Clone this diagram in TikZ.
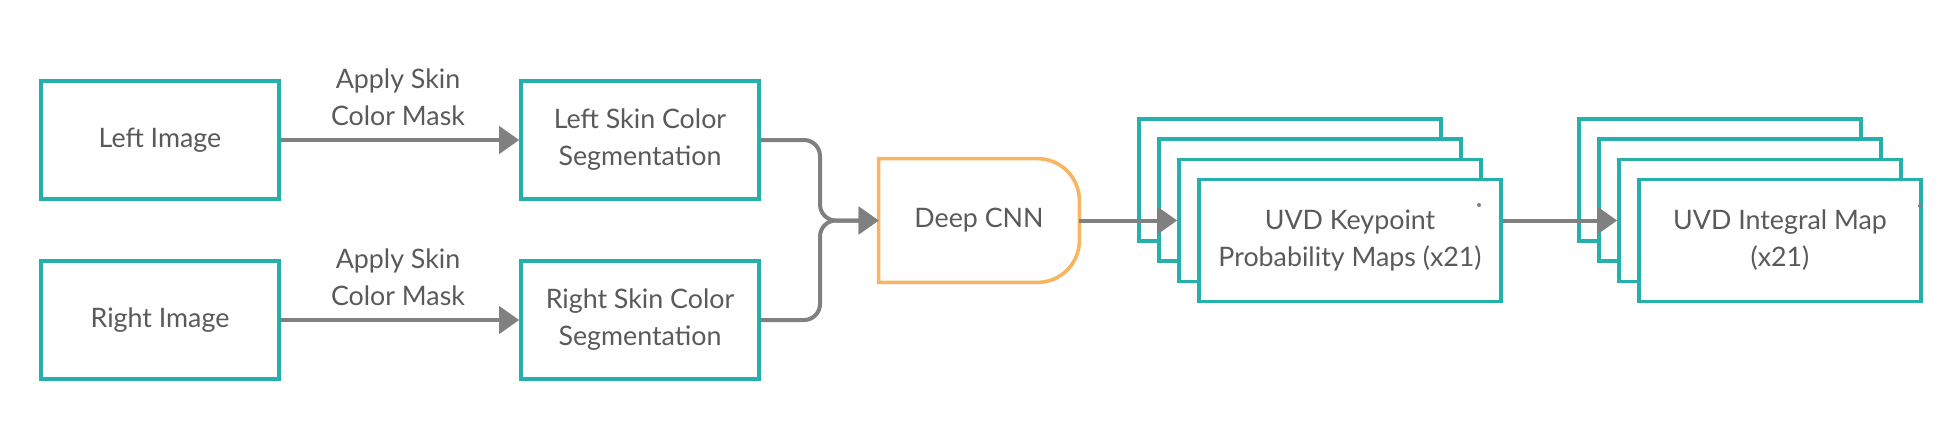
\documentclass[tikz,border=0pt]{standalone}
\usepackage{fontspec}
\setmainfont{Lato}
\usetikzlibrary{arrows.meta}
\definecolor{teal1}{RGB}{38,176,172}
\definecolor{orng}{RGB}{248,180,96}
\definecolor{lgray}{RGB}{128,128,128}
\definecolor{tgray}{RGB}{90,90,90}
\tikzset{
  box/.style={draw=teal1, line width=1.8pt, fill=white, minimum width=119pt, minimum height=59pt, align=center, text=tgray, font=\fontsize{13.4}{18.5}\selectfont, inner sep=0pt},
  stackbox/.style={box, minimum width=151pt, minimum height=61pt},
  stackboxb/.style={box, minimum width=141pt, minimum height=61pt},
  conn/.style={draw=lgray, line width=2pt, -{Triangle[length=10pt,width=13.5pt]}},
  lbl/.style={text=tgray, align=center, font=\fontsize{13.4}{18.5}\selectfont, inner sep=0pt},
}
\begin{document}
\begin{tikzpicture}[x=0.5pt,y=-0.5pt]
\useasboundingbox (0,0) rectangle (1960,420);
% left column
\node[box] (limg) at (160,140) {Left Image};
\node[box] (rimg) at (160,320) {Right Image};
\node[box] (lseg) at (640,140) {Left Skin Color\\Segmentation};
\node[box] (rseg) at (640,320) {Right Skin Color\\Segmentation};
\node[lbl] (lab1) at (398,97) {Apply Skin\\Color Mask};
\node[lbl] (lab2) at (398,277) {Apply Skin\\Color Mask};
\draw[conn] (limg.east) -- (lseg.west);
\draw[conn] (rimg.east) -- (rseg.west);
% deep CNN
\node[minimum width=100pt, minimum height=61.5pt, inner sep=0pt, text=tgray, font=\fontsize{13.4}{18.5}\selectfont] (cnn) at (979,220.5) {Deep CNN};
\draw[draw=orng, line width=1.8pt] (cnn.south west) -- (cnn.north west) {[rounded corners=21pt] -- (cnn.north east) -- (cnn.south east)} -- cycle;
\coordinate (mj) at (820,220.5);
\draw[conn, rounded corners=8pt] (lseg.east) -| (mj) -- (cnn.west);
\draw[conn, rounded corners=8pt] (rseg.east) -| (mj) -- (cnn.west);
% probability map stack
\node[stackbox] (mapA) at (1290,180) {};
\node[stackbox] (mapB) at (1310,200) {};
\node[stackbox] (mapC) at (1330,220.5) {};
\node[stackbox] (mapD) at (1350,240.5) {UVD Keypoint\\Probability Maps (x21)};
% integral map stack
\node[stackboxb] (intA) at (1720,180) {};
\node[stackboxb] (intB) at (1740,200) {};
\node[stackboxb] (intC) at (1760,220.5) {};
\node[stackboxb] (intD) at (1780,240.5) {UVD Integral Map\\(x21)};
\draw[conn] (cnn.east) -- (mapC.west);
\draw[conn] (mapD.east |- intC.west) -- (intC.west);
\fill[lgray] (1479,205) circle (1pt);
\fill[lgray] (1920,206) circle (1pt);
\end{tikzpicture}
\end{document}
